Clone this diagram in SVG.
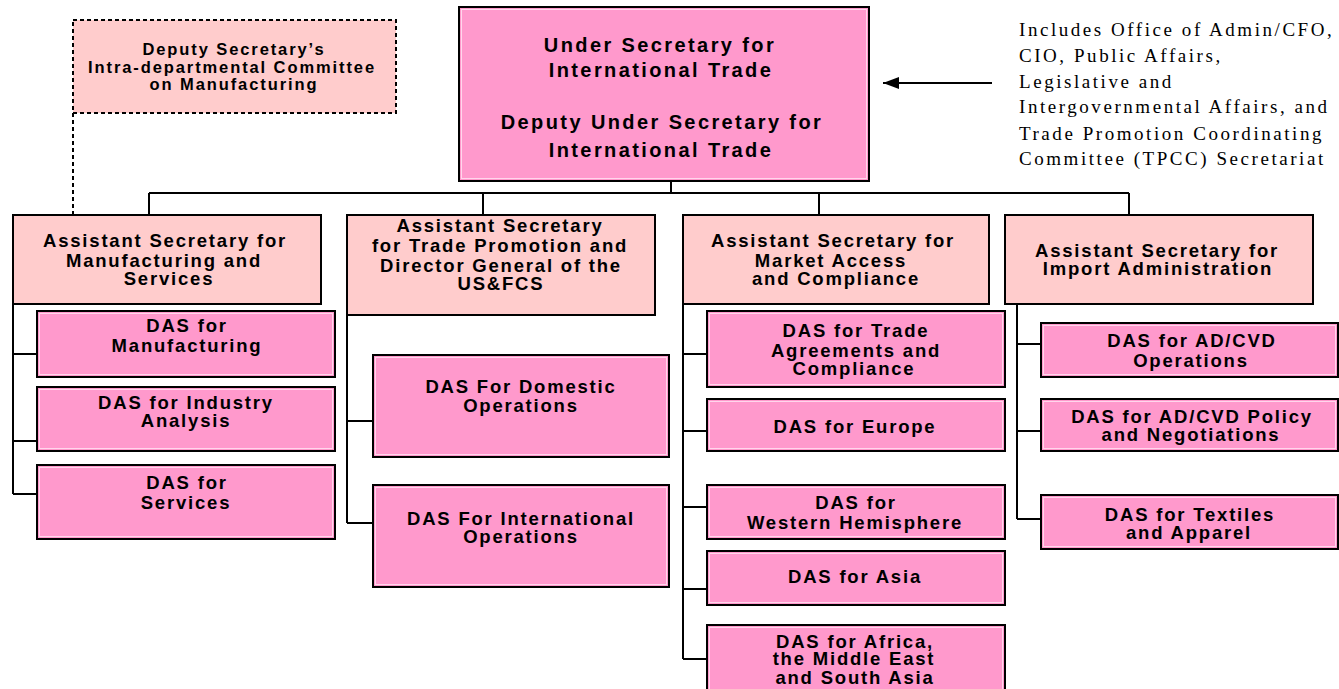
<svg xmlns="http://www.w3.org/2000/svg" width="1339" height="689" viewBox="0 0 1339 689">
  <style>
    .box { stroke: #000; stroke-width: 2; }
    .hi { fill: #FF99CC; }
    .lo { fill: #FFCCCC; }
    .bevel { fill: none; stroke: #FFD6EC; stroke-width: 1; }
    .dash { fill: #FFCCCC; stroke: #000; stroke-width: 2; stroke-dasharray: 4 3; }
    .lbl { font-family: "Liberation Sans", Arial, Helvetica, sans-serif; font-weight: bold; font-size: 18.5px; letter-spacing: 1.8px; text-anchor: middle; fill: #000; }
    .top { font-size: 20px; letter-spacing: 2.4px; }
    .small { font-size: 16.5px; letter-spacing: 1.9px; }
    .note { font-family: "Liberation Serif", "Times New Roman", serif; font-size: 19px; letter-spacing: 2.55px; fill: #000; }
    .wire { fill: none; stroke: #000; stroke-width: 2; }
    .wire-dash { fill: none; stroke: #000; stroke-width: 2; stroke-dasharray: 4 3; }
  </style>
  <defs>
    <marker id="arrow" viewBox="0 0 16 12" refX="16" refY="6" markerWidth="16" markerHeight="12" markerUnits="userSpaceOnUse" orient="auto">
      <path d="M0,0 L16,6 L0,12 Z" fill="#000"/>
    </marker>
  </defs>

  <!-- connectors -->
  <g id="connectors">
    <path class="wire" d="M671,181 V193 M149,193 H1129 M149,193 V215 M483,193 V215 M819,193 V215 M1129,193 V215"/>
    <path class="wire-dash" d="M73,113 V215"/>
    <!-- Manufacturing and Services -->
    <path class="wire" d="M13,304 V494 M13,354 H37 M13,441 H37 M13,494 H37"/>
    <!-- Trade Promotion -->
    <path class="wire" d="M347,315 V523 M347,421 H373 M347,523 H373"/>
    <!-- Market Access and Compliance -->
    <path class="wire" d="M683,304 V659 M683,354 H707 M683,431 H707 M683,507 H707 M683,589 H707 M683,659 H707"/>
    <!-- Import Administration -->
    <path class="wire" d="M1017,304 V519 M1017,344 H1041 M1017,431 H1041 M1017,519 H1041"/>
    <!-- staff offices pointer -->
    <line class="wire" x1="992" y1="83" x2="883" y2="83" marker-end="url(#arrow)"/>
  </g>

  <!-- committee -->
  <g id="committee">
    <rect class="dash" x="73" y="20" width="323" height="93"/>
    <text class="lbl small" x="234" y="55">Deputy Secretary’s</text>
    <text class="lbl small" x="232" y="72.5">Intra-departmental Committee</text>
    <text class="lbl small" x="234" y="89.5">on Manufacturing</text>
  </g>

  <!-- Under Secretary -->
  <g id="under-secretary">
    <rect class="box hi" x="459" y="7" width="410" height="174"/>
    <rect class="bevel" x="461.5" y="9.5" width="405" height="169"/>
    <text class="lbl top" x="660" y="52">Under Secretary for</text>
    <text class="lbl top" x="661" y="77">International Trade</text>
    <text class="lbl top" x="662" y="129">Deputy Under Secretary for</text>
    <text class="lbl top" x="661" y="157">International Trade</text>
  </g>

  <!-- staff offices note -->
  <g id="staff-note">
    <text class="note" x="1019" y="36">Includes Office of Admin/CFO,</text>
    <text class="note" x="1019" y="62">CIO, Public Affairs,</text>
    <text class="note" x="1019" y="88">Legislative and</text>
    <text class="note" x="1019" y="113">Intergovernmental Affairs, and</text>
    <text class="note" x="1019" y="140">Trade Promotion Coordinating</text>
    <text class="note" x="1019" y="165">Committee (TPCC) Secretariat</text>
  </g>

  <!-- Assistant Secretaries -->
  <g id="as-manufacturing">
    <rect class="box lo" x="13" y="215" width="308" height="89"/>
    <text class="lbl" x="165" y="247">Assistant Secretary for</text>
    <text class="lbl" x="164" y="267">Manufacturing and</text>
    <text class="lbl" x="169" y="285">Services</text>
  </g>
  <g id="as-trade-promotion">
    <rect class="box lo" x="347" y="215" width="308" height="100"/>
    <text class="lbl" x="500" y="232">Assistant Secretary</text>
    <text class="lbl" x="500" y="252">for Trade Promotion and</text>
    <text class="lbl" x="501" y="272">Director General of the</text>
    <text class="lbl" x="501" y="290">US&amp;FCS</text>
  </g>
  <g id="as-market-access">
    <rect class="box lo" x="683" y="215" width="306" height="89"/>
    <text class="lbl" x="833" y="247">Assistant Secretary for</text>
    <text class="lbl" x="831" y="267">Market Access</text>
    <text class="lbl" x="836" y="285">and Compliance</text>
  </g>
  <g id="as-import-admin">
    <rect class="box lo" x="1005" y="215" width="308" height="89"/>
    <text class="lbl" x="1157" y="257">Assistant Secretary for</text>
    <text class="lbl" x="1158" y="275">Import Administration</text>
  </g>

  <!-- DAS: Manufacturing and Services -->
  <g id="das-manufacturing">
    <rect class="box hi" x="37" y="311" width="298" height="66"/>
    <rect class="bevel" x="39.5" y="313.5" width="293" height="61"/>
    <text class="lbl" x="187" y="332">DAS for</text>
    <text class="lbl" x="187" y="352">Manufacturing</text>
  </g>
  <g id="das-industry-analysis">
    <rect class="box hi" x="37" y="387" width="298" height="64"/>
    <rect class="bevel" x="39.5" y="389.5" width="293" height="59"/>
    <text class="lbl" x="186" y="409">DAS for Industry</text>
    <text class="lbl" x="186" y="427">Analysis</text>
  </g>
  <g id="das-services">
    <rect class="box hi" x="37" y="465" width="298" height="74"/>
    <rect class="bevel" x="39.5" y="467.5" width="293" height="69"/>
    <text class="lbl" x="187" y="489">DAS for</text>
    <text class="lbl" x="186" y="509">Services</text>
  </g>

  <!-- DAS: Trade Promotion -->
  <g id="das-domestic">
    <rect class="box hi" x="373" y="355" width="296" height="102"/>
    <rect class="bevel" x="375.5" y="357.5" width="291" height="97"/>
    <text class="lbl" x="521" y="393">DAS For Domestic</text>
    <text class="lbl" x="521" y="412">Operations</text>
  </g>
  <g id="das-international">
    <rect class="box hi" x="373" y="485" width="296" height="102"/>
    <rect class="bevel" x="375.5" y="487.5" width="291" height="97"/>
    <text class="lbl" x="521" y="525">DAS For International</text>
    <text class="lbl" x="521" y="543">Operations</text>
  </g>

  <!-- DAS: Market Access and Compliance -->
  <g id="das-trade-agreements">
    <rect class="box hi" x="707" y="311" width="298" height="76"/>
    <rect class="bevel" x="709.5" y="313.5" width="293" height="71"/>
    <text class="lbl" x="856" y="337">DAS for Trade</text>
    <text class="lbl" x="856" y="357">Agreements and</text>
    <text class="lbl" x="854" y="375">Compliance</text>
  </g>
  <g id="das-europe">
    <rect class="box hi" x="707" y="399" width="298" height="52"/>
    <rect class="bevel" x="709.5" y="401.5" width="293" height="47"/>
    <text class="lbl" x="855" y="433">DAS for Europe</text>
  </g>
  <g id="das-western-hemisphere">
    <rect class="box hi" x="707" y="485" width="298" height="54"/>
    <rect class="bevel" x="709.5" y="487.5" width="293" height="49"/>
    <text class="lbl" x="856" y="509">DAS for</text>
    <text class="lbl" x="855" y="529">Western Hemisphere</text>
  </g>
  <g id="das-asia">
    <rect class="box hi" x="707" y="551" width="298" height="54"/>
    <rect class="bevel" x="709.5" y="553.5" width="293" height="49"/>
    <text class="lbl" x="855" y="583">DAS for Asia</text>
  </g>
  <g id="das-africa-me-sa">
    <rect class="box hi" x="707" y="625" width="298" height="70"/>
    <rect class="bevel" x="709.5" y="627.5" width="293" height="65"/>
    <text class="lbl" x="855" y="648">DAS for Africa,</text>
    <text class="lbl" x="854" y="665">the Middle East</text>
    <text class="lbl" x="855" y="684">and South Asia</text>
  </g>

  <!-- DAS: Import Administration -->
  <g id="das-adcvd-operations">
    <rect class="box hi" x="1041" y="323" width="297" height="54"/>
    <rect class="bevel" x="1043.5" y="325.5" width="292" height="49"/>
    <text class="lbl" x="1192" y="347">DAS for AD/CVD</text>
    <text class="lbl" x="1191" y="367">Operations</text>
  </g>
  <g id="das-adcvd-policy">
    <rect class="box hi" x="1041" y="399" width="297" height="52"/>
    <rect class="bevel" x="1043.5" y="401.5" width="292" height="47"/>
    <text class="lbl" x="1192" y="423">DAS for AD/CVD Policy</text>
    <text class="lbl" x="1191" y="441">and Negotiations</text>
  </g>
  <g id="das-textiles">
    <rect class="box hi" x="1041" y="495" width="297" height="54"/>
    <rect class="bevel" x="1043.5" y="497.5" width="292" height="49"/>
    <text class="lbl" x="1190" y="521">DAS for Textiles</text>
    <text class="lbl" x="1189" y="539">and Apparel</text>
  </g>
</svg>
